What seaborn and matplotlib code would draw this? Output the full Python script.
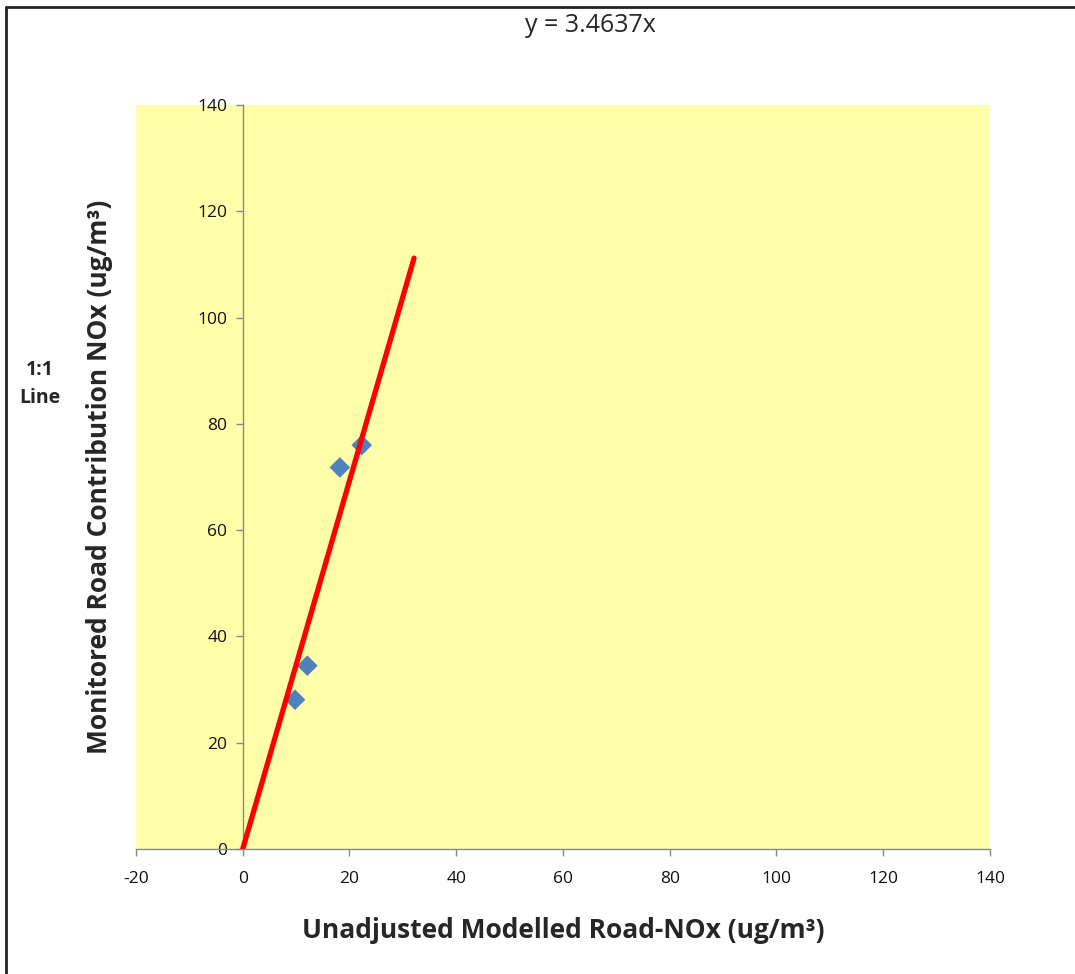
import numpy as np
import pandas as pd
import matplotlib
matplotlib.use("Agg")
import matplotlib.pyplot as plt
import seaborn as sns

# measured vs modelled road NOx
modelled = [9.8, 12.1, 18.2, 22.3]
monitored = [28.1, 34.5, 71.8, 76.0]

slope = 3.4637
trend_x = [0, 32.1]

x_ticks = [-20, 0, 20, 40, 60, 80, 100, 120, 140]
y_ticks = [0, 20, 40, 60, 80, 100, 120, 140]

sns.set_style("white")
plt.rcParams['font.family'] = ['Open Sans', 'DejaVu Sans']
plt.rcParams['axes.unicode_minus'] = False

df = pd.DataFrame({"modelled": modelled, "monitored": monitored})
trend = pd.DataFrame({"x": trend_x, "y": [slope * v for v in trend_x]})

fig = plt.figure(figsize=(10.75, 9.74), dpi=100)
ax = fig.add_axes([0.1265, 0.1283, 0.7944, 0.7639])
ax.set_facecolor("#FFFFAA")

sns.lineplot(data=trend, x="x", y="y", ax=ax, color="#FF0000", linewidth=3.8, zorder=3)
sns.scatterplot(data=df, x="modelled", y="monitored", ax=ax, marker="D", s=110,
                color="#4F81BD", edgecolor="none", zorder=2)

ax.set_xlim(-20, 140)
ax.set_ylim(0, 140)
ax.set_xticks(x_ticks)
ax.set_yticks(y_ticks)
ax.tick_params(axis="both", bottom=True, left=True, labelsize=12.5, colors="#111111",
               direction="out", length=5, width=1, color="#888888")
ax.tick_params(axis="x", pad=11)
ax.tick_params(axis="y", pad=6)

ax.spines["left"].set_position(("data", 0))
ax.spines["bottom"].set_position(("data", 0))
ax.spines["top"].set_visible(False)
ax.spines["right"].set_visible(False)
for s in ["left", "bottom"]:
    ax.spines[s].set_color("#888888")
    ax.spines[s].set_linewidth(1)

ax.set_xlabel("Unadjusted Modelled Road-NOx (ug/m³)", fontsize=19, fontweight="bold")
ax.set_ylabel("Monitored Road Contribution NOx (ug/m³)", fontsize=19, fontweight="bold")
ax.xaxis.set_label_coords(0.5, -0.092)
ax.yaxis.set_label_coords(-0.027, 0.5)

fig.text(590 / 1075, 1 - 26 / 974, "y = 3.4637x", ha="center", va="center", fontsize=18)
fig.text(40 / 1075, 1 - 384 / 974, "1:1\nLine", ha="center", va="center", fontsize=14,
         fontweight="bold", linespacing=1.5)

# outer frame on left and top
fig.add_artist(plt.Line2D([6 / 1075, 6 / 1075], [0, 1 - 7 / 974], color="#222222", lw=2))
fig.add_artist(plt.Line2D([6 / 1075, 1], [1 - 7 / 974, 1 - 7 / 974], color="#222222", lw=2))

fig.savefig("out.png", dpi=100)
